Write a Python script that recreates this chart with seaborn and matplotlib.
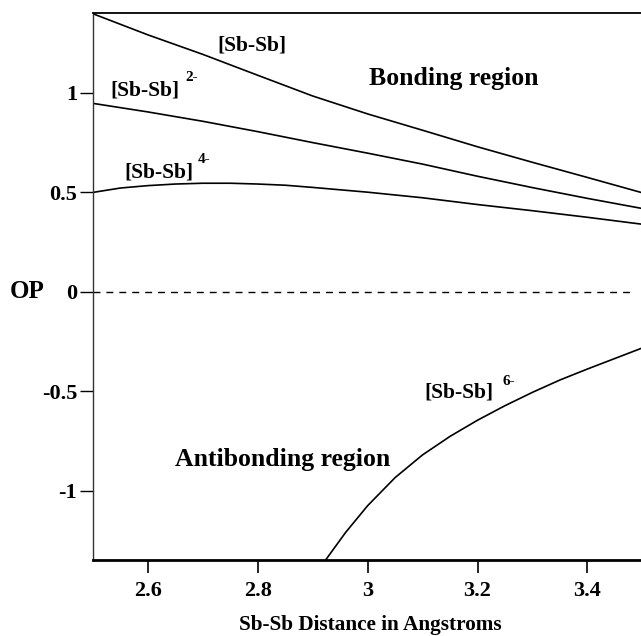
import numpy as np
import pandas as pd
import seaborn as sns
import matplotlib.pyplot as plt

# distances (Angstrom) and overlap populations
dist = [2.5, 2.6, 2.7, 2.8, 2.9, 3.0, 3.1, 3.2, 3.3, 3.4, 3.5]
op_neutral = [1.396, 1.290, 1.192, 1.087, 0.983, 0.893, 0.811, 0.728, 0.650, 0.574, 0.497]
op_2minus = [0.946, 0.903, 0.856, 0.804, 0.749, 0.696, 0.641, 0.580, 0.523, 0.469, 0.418]

dist_4 = [2.5, 2.55, 2.6, 2.65, 2.7, 2.75, 2.8, 2.85, 2.9, 2.95, 3.0, 3.1, 3.2, 3.3, 3.4, 3.5]
op_4minus = [0.499, 0.521, 0.533, 0.541, 0.545, 0.545, 0.541, 0.535, 0.524, 0.512, 0.500,
             0.472, 0.438, 0.407, 0.374, 0.339]

dist_6 = [2.92, 2.96, 3.0, 3.05, 3.1, 3.15, 3.2, 3.25, 3.3, 3.35, 3.4, 3.45, 3.5]
op_6minus = [-1.36, -1.208, -1.074, -0.933, -0.819, -0.726, -0.645, -0.572, -0.505,
             -0.443, -0.388, -0.335, -0.282]

xticks = [2.6, 2.8, 3.0, 3.2, 3.4]
xtick_labels = ["2.6", "2.8", "3", "3.2", "3.4"]
yticks = [1, 0.5, 0, -0.5, -1]
ytick_labels = ["1", "0.5", "0", "-0.5", "-1"]

sns.set_style("ticks")
plt.rcParams['font.family'] = ['Liberation Serif', 'DejaVu Serif']
plt.rcParams['font.weight'] = 'bold'
plt.rcParams['text.color'] = 'black'
plt.rcParams['axes.labelcolor'] = 'black'
plt.rcParams['xtick.color'] = 'black'
plt.rcParams['ytick.color'] = 'black'

fig = plt.figure(figsize=(6.41, 6.36), dpi=100)
ax = fig.add_axes([0.1451, 0.1195, 0.857, 0.8601])

sns.lineplot(x=dist, y=op_neutral, ax=ax, color='black', linewidth=1.2)
sns.lineplot(x=dist, y=op_2minus, ax=ax, color='black', linewidth=1.2)
sns.lineplot(x=dist_4, y=op_4minus, ax=ax, color='black', linewidth=1.2)
sns.lineplot(x=dist_6, y=op_6minus, ax=ax, color='black', linewidth=1.2)

# zero line
zl = ax.axhline(0, color='black', linewidth=1.0, xmax=0.985)
zl.set_dashes([5, 4.3])

ax.set_xlim(2.5, 3.5)
ax.set_ylim(-1.347, 1.40)

ax.set_xticks(xticks)
ax.set_xticklabels(xtick_labels, fontsize=16, fontweight='bold', color='black')
ax.set_yticks(yticks)
ax.set_yticklabels(ytick_labels, fontsize=16, fontweight='bold', color='black')
ax.tick_params(axis='x', direction='out', length=9.4, width=1.2, pad=6, colors='black')
ax.tick_params(axis='y', direction='out', length=9.4, width=1.0, pad=2, colors='black')

for side in ['left', 'top', 'bottom', 'right']:
    ax.spines[side].set_visible(True)
ax.spines['left'].set_linewidth(1.0)
ax.spines['left'].set_color('#333333')
ax.spines['top'].set_linewidth(1.3)
ax.spines['top'].set_color('black')
ax.spines['bottom'].set_linewidth(2.0)
ax.spines['bottom'].set_color('black')
ax.spines['right'].set_linewidth(0.8)
ax.spines['right'].set_color('#bbbbbb')

ax.set_xlabel("Sb-Sb Distance in Angstroms", fontsize=15.3, fontweight='bold', color='black')
ax.xaxis.set_label_coords(0.505, -0.119)
ax.xaxis.label.set_va('center')
ax.set_ylabel("OP", fontsize=18, fontweight='bold', rotation=0, color='black')
ax.yaxis.set_label_coords(-0.120, 0.490)
ax.yaxis.label.set_va('center')
ax.yaxis.label.set_ha('center')

# curve labels
lab = dict(fontsize=15.5, fontweight='bold', ha='center', va='center', color='black')
sup = dict(fontsize=11, fontweight='bold', ha='left', va='center', color='black')
ax.text(2.789, 1.238, "[Sb-Sb]", **lab)
ax.text(2.595, 1.013, "[Sb-Sb]", **lab)
ax.text(2.669, 1.078, "2-", **sup)
ax.text(2.62, 0.60, "[Sb-Sb]", **lab)
ax.text(2.691, 0.662, "4-", **sup)
ax.text(3.167, -0.506, "[Sb-Sb]", **lab)
ax.text(3.245, -0.451, "6-", **sup)

ax.text(3.156, 1.073, "Bonding region", fontsize=18.5, fontweight='bold',
        ha='center', va='center', color='black')
ax.text(2.846, -0.842, "Antibonding region", fontsize=18.5, fontweight='bold',
        ha='center', va='center', color='black')

plt.savefig("out.png", dpi=100)
